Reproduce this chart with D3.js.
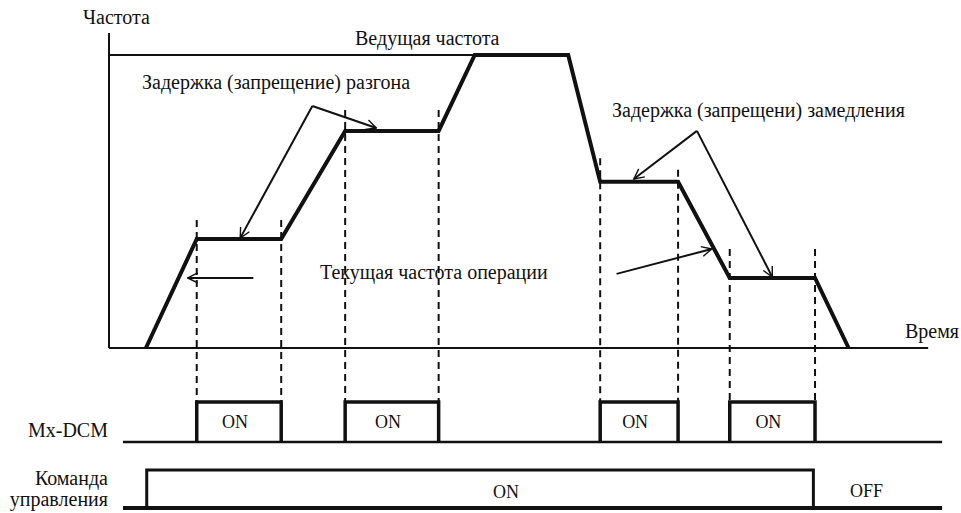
<!DOCTYPE html>
<html>
<head>
<meta charset="utf-8">
<script src="https://cdn.jsdelivr.net/npm/d3@7"></script>
<style>
	body { margin: 0; background: #fff; }
	text { font-family: "Liberation Serif", "DejaVu Serif", serif; font-size: 20px; fill: #111; }
</style>
</head>
<body>
<svg id="chart" width="961" height="513"></svg>
<script>
// time (arb. units 0..100) and frequency (% of master freq) of the running frequency
const timePoints = [4.5, 10.7, 21.0, 28.8, 40.2, 44.6, 56.0, 59.9, 69.4, 75.7, 86.1, 90.2];
const freqPoints = [0, 37.2, 37.2, 74.1, 74.1, 100, 100, 56.7, 56.7, 23.9, 23.9, 0];

const masterFreq = 100;
// dashed guides: time and top frequency
const guideTimes = [10.7, 21.0, 28.8, 40.2, 59.9, 69.4, 75.7, 86.1];
const guideTops = [43.7, 43.7, 81.2, 81.2, 64.8, 60.8, 33.8, 33.8];

// Mx-DCM ON intervals
const dcmOn = [[10.7, 21.0], [28.8, 40.2], [59.9, 69.4], [75.7, 86.1]];
const dcmSpan = [1.7, 101.6];
// run command ON interval
const cmdOn = [4.6, 85.9];
const cmdSpan = [1.7, 101.6];

// annotation arrows [t0, f0, t1, f1]
const arrows = [
	[24.8, 82.6, 32.6, 75.1],
	[24.8, 82.6, 16.0, 37.5],
	[17.6, 23.9, 9.6, 23.9],
	[71.7, 74.1, 64.0, 57.7],
	[71.7, 74.1, 80.9, 24.2],
	[61.9, 25.3, 73.5, 33.8]
];

const svg = d3.select("#chart");

const x = d3.scaleLinear().domain([0, 100]).range([109, 929]);
const y = d3.scaleLinear().domain([0, 100]).range([348, 55]);
const dcmY = d3.scaleLinear().domain([0, 1]).range([442, 402]);
const cmdY = d3.scaleLinear().domain([0, 1]).range([508, 470]);

// arrow head
svg.append("defs")
	.append("marker")
	.attr("id", "arr")
	.attr("markerUnits", "userSpaceOnUse")
	.attr("viewBox", "0 0 12 12")
	.attr("refX", 11)
	.attr("refY", 6)
	.attr("markerWidth", 12)
	.attr("markerHeight", 12)
	.attr("orient", "auto")
	.append("path")
	.attr("d", "M1,1 L11,6 L1,11")
	.attr("fill", "none")
	.attr("stroke", "#111")
	.attr("stroke-width", 1.4);

// axes
svg.append("line")
	.attr("x1", x(0)).attr("y1", y(107.5))
	.attr("x2", x(0)).attr("y2", y(0))
	.attr("stroke", "#111").attr("stroke-width", 2);
svg.append("line")
	.attr("x1", x(0)).attr("y1", y(0))
	.attr("x2", x(99.9)).attr("y2", y(0))
	.attr("stroke", "#111").attr("stroke-width", 2);

// master frequency
svg.append("line")
	.attr("x1", x(0)).attr("y1", y(masterFreq))
	.attr("x2", x(timePoints[5])).attr("y2", y(masterFreq))
	.attr("stroke", "#111").attr("stroke-width", 2);

// dashed guides
svg.append("g")
	.selectAll("line")
	.data(guideTimes)
	.enter()
	.append("line")
	.attr("x1", d => x(d))
	.attr("x2", d => x(d))
	.attr("y1", (d, i) => y(guideTops[i]))
	.attr("y2", dcmY(1))
	.attr("stroke", "#111")
	.attr("stroke-width", 2)
	.attr("stroke-dasharray", "7,5");

// running frequency
const freqLine = d3.line()
	.x(d => x(d[0]))
	.y(d => y(d[1]));

svg.append("path")
	.attr("d", freqLine(timePoints.map((t, i) => [t, freqPoints[i]])))
	.attr("fill", "none")
	.attr("stroke", "#111")
	.attr("stroke-width", 4)
	.attr("stroke-linejoin", "miter");

// arrows
svg.append("g")
	.selectAll("line")
	.data(arrows)
	.enter()
	.append("line")
	.attr("x1", d => x(d[0]))
	.attr("y1", d => y(d[1]))
	.attr("x2", d => x(d[2]))
	.attr("y2", d => y(d[3]))
	.attr("stroke", "#111")
	.attr("stroke-width", 2)
	.attr("marker-end", "url(#arr)");

// Mx-DCM signal
svg.append("line")
	.attr("x1", x(dcmSpan[0])).attr("x2", x(dcmSpan[1]))
	.attr("y1", dcmY(0)).attr("y2", dcmY(0))
	.attr("stroke", "#111").attr("stroke-width", 2.5);

const pulses = svg.append("g").selectAll("g")
	.data(dcmOn)
	.enter()
	.append("g");

pulses.append("path")
	.attr("d", d => `M${x(d[0])},${dcmY(0)} V${dcmY(1)} H${x(d[1])} V${dcmY(0)}`)
	.attr("fill", "none")
	.attr("stroke", "#111")
	.attr("stroke-width", 3.5);

pulses.append("text")
	.attr("x", d => (x(d[0]) + x(d[1])) / 2 - 4)
	.attr("y", dcmY(0) - 14)
	.attr("text-anchor", "middle")
	.style("font-size", "18px")
	.text("ON");

// run command signal
svg.append("line")
	.attr("x1", x(cmdSpan[0])).attr("x2", x(cmdSpan[1]))
	.attr("y1", cmdY(0)).attr("y2", cmdY(0))
	.attr("stroke", "#111").attr("stroke-width", 4);

svg.append("path")
	.attr("d", `M${x(cmdOn[0])},${cmdY(0)} V${cmdY(1)} H${x(cmdOn[1])} V${cmdY(0)}`)
	.attr("fill", "none")
	.attr("stroke", "#111")
	.attr("stroke-width", 3);

// labels
const labels = [
	{ text: "Частота", x: 83, y: 24, anchor: "start" },
	{ text: "Ведущая частота", x: 355, y: 45, anchor: "start" },
	{ text: "Задержка (запрещение) разгона", x: 142, y: 89, anchor: "start" },
	{ text: "Задержка (запрещени) замедления", x: 612, y: 117, anchor: "start" },
	{ text: "Текущая частота операции", x: 320, y: 279, anchor: "start" },
	{ text: "Время", x: 905, y: 338, anchor: "start" },
	{ text: "Mx-DCM", x: 108, y: 437, anchor: "end" },
	{ text: "Команда", x: 108, y: 485, anchor: "end" },
	{ text: "управления", x: 108, y: 506, anchor: "end" },
	{ text: "ON", x: 493, y: 498, anchor: "start" },
	{ text: "OFF", x: 850, y: 497, anchor: "start" }
];

svg.append("g")
	.selectAll("text")
	.data(labels)
	.enter()
	.append("text")
	.attr("x", d => d.x)
	.attr("y", d => d.y)
	.attr("text-anchor", d => d.anchor)
	.style("font-size", d => (d.text === "ON" || d.text === "OFF") ? "18px" : null)
	.text(d => d.text);
</script>
</body>
</html>
